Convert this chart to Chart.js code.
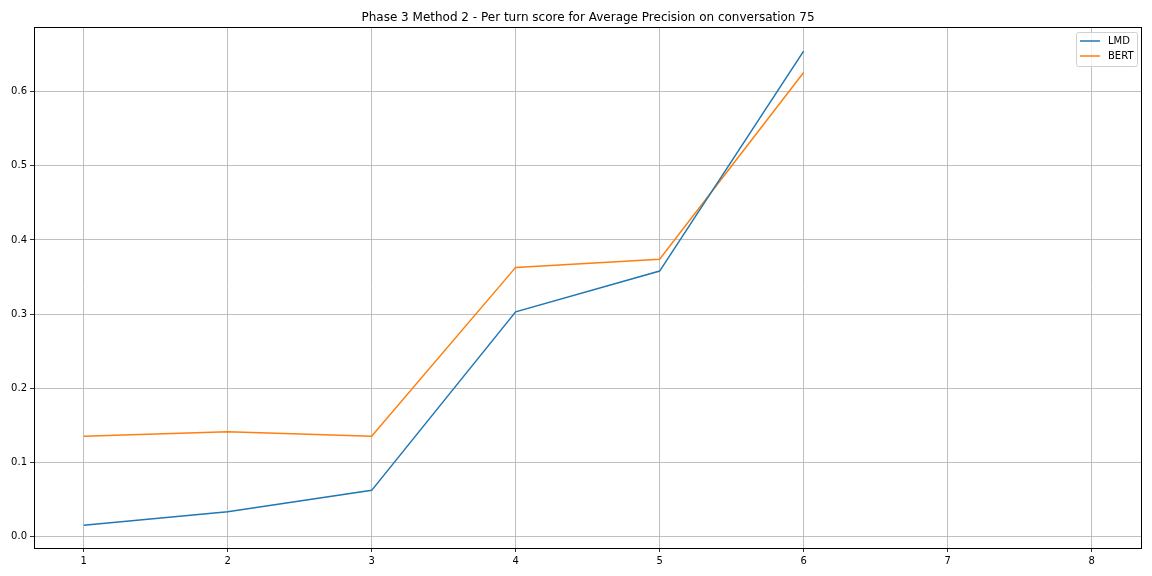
<!DOCTYPE html>
<html>
<head>
<meta charset="utf-8">
<title>Per turn score</title>
<script src="https://cdn.jsdelivr.net/npm/chart.js@4"></script>
<style>
  html, body { margin: 0; padding: 0; background: #fff; }
  #wrap { width: 1152px; height: 576px; position: relative; }
</style>
</head>
<body>
<div id="wrap"><canvas id="c"></canvas></div>
<script>
  // data
  var turns = [1, 2, 3, 4, 5, 6];
  var lmdScores = [0.015, 0.033, 0.062, 0.303, 0.358, 0.655];
  var bertScores = [0.135, 0.141, 0.135, 0.363, 0.374, 0.626];
  var xTicks = [1, 2, 3, 4, 5, 6, 7, 8];
  var yTicks = [0.0, 0.1, 0.2, 0.3, 0.4, 0.5, 0.6];
  var titleText = 'Phase 3 Method 2 - Per turn score for Average Precision on conversation 75';

  var FONT = 'DejaVu Sans, sans-serif';

  function pts(ys){
    return turns.map(function(t, i){ return {x: t, y: ys[i]}; });
  }

  // frame, title and inside legend, matplotlib style
  var mplDecor = {
    id: 'mplDecor',
    afterDraw: function(chart){
      var ctx = chart.ctx, a = chart.chartArea;
      ctx.save();
      ctx.strokeStyle = '#000';
      ctx.lineWidth = 1;
      ctx.strokeRect(Math.round(a.left) + 0.5, Math.round(a.top) + 0.5,
        Math.round(a.right - a.left) - 1, Math.round(a.bottom - a.top));

      ctx.fillStyle = '#000';
      ctx.font = '12px ' + FONT;
      ctx.textAlign = 'center';
      ctx.textBaseline = 'alphabetic';
      ctx.fillText(titleText, (a.left + a.right) / 2, 21);

      // legend box
      var ds = chart.data.datasets;
      var bx = a.right - 66, by = a.top + 5, bw = 61, bh = 34;
      ctx.fillStyle = 'rgba(255,255,255,0.8)';
      ctx.strokeStyle = '#d0d0d0';
      ctx.lineWidth = 1;
      ctx.beginPath();
      if (ctx.roundRect) ctx.roundRect(bx + 0.5, by + 0.5, bw, bh, 2); else ctx.rect(bx + 0.5, by + 0.5, bw, bh);
      ctx.fill(); ctx.stroke();
      ctx.font = '10px ' + FONT;
      ctx.textAlign = 'left';
      ctx.textBaseline = 'middle';
      ds.forEach(function(d, i){
        var y = by + 9 + i * 15;
        ctx.strokeStyle = d.borderColor;
        ctx.lineWidth = 1.5;
        ctx.beginPath(); ctx.moveTo(bx + 4, y); ctx.lineTo(bx + 24, y); ctx.stroke();
        ctx.fillStyle = '#000';
        ctx.fillText(d.label, bx + 32, y);
      });
      ctx.restore();
    }
  };

  new Chart(document.getElementById('c'), {
    type: 'line',
    data: {
      datasets: [
        {label: 'LMD', data: pts(lmdScores), borderColor: '#1f77b4', backgroundColor: '#1f77b4', borderWidth: 1.5, pointRadius: 0, tension: 0},
        {label: 'BERT', data: pts(bertScores), borderColor: '#ff7f0e', backgroundColor: '#ff7f0e', borderWidth: 1.5, pointRadius: 0, tension: 0}
      ]
    },
    options: {
      responsive: true,
      maintainAspectRatio: false,
      animation: false,
      layout: {padding: {top: 27, right: 10, bottom: 0, left: 0}},
      plugins: {legend: {display: false}, title: {display: false}, tooltip: {enabled: false}},
      scales: {
        x: {
          type: 'linear', min: 0.655, max: 8.35,
          afterBuildTicks: function(s){ s.ticks = xTicks.map(function(v){ return {value: v}; }); },
          afterFit: function(s){ s.height = 28; },
          grid: {color: '#b0b0b0', lineWidth: 0.8, tickLength: 4, tickColor: '#000'},
          border: {display: false},
          ticks: {color: '#000', font: {family: FONT, size: 10}, padding: 3, maxRotation: 0,
            callback: function(v){ return String(v); }}
        },
        y: {
          type: 'linear', min: -0.0158, max: 0.6875,
          afterBuildTicks: function(s){ s.ticks = yTicks.map(function(v){ return {value: v}; }); },
          afterFit: function(s){ s.width = 34; },
          grid: {color: '#b0b0b0', lineWidth: 0.8, tickLength: 4, tickColor: '#000'},
          border: {display: false},
          ticks: {color: '#000', font: {family: FONT, size: 10}, padding: 3,
            callback: function(v){ return v.toFixed(1); }}
        }
      }
    },
    plugins: [mplDecor]
  });
</script>
</body>
</html>
